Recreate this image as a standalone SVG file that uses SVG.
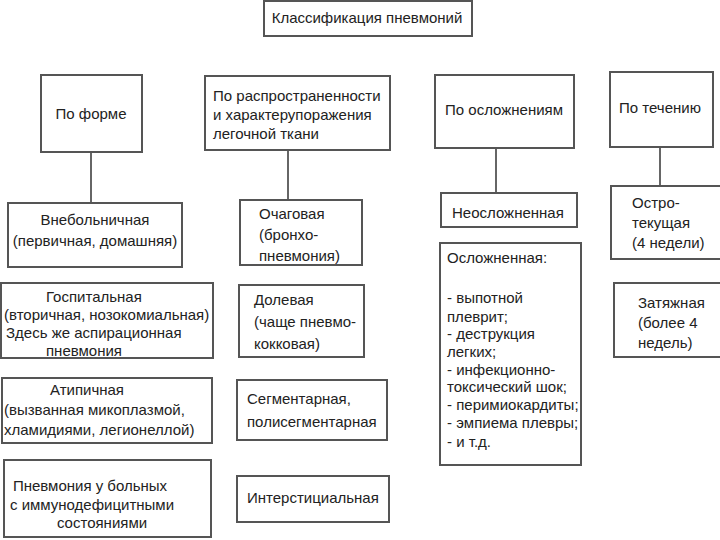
<svg xmlns="http://www.w3.org/2000/svg" width="720" height="540" viewBox="0 0 720 540">
<style>
rect.b{fill:#fff;stroke:#555;stroke-width:2}
text{font-family:"Liberation Sans",Arial,sans-serif;font-size:15px;fill:#222}
.c{text-anchor:middle}
line{stroke:#333;stroke-width:1.5}
</style>
<rect width="720" height="540" fill="#fff"/>
<g id="title"><rect class="b" x="264" y="1" width="208" height="35"/><text class="c" x="367" y="23">Классификация пневмоний</text></g>
<g id="connectors">
<line x1="91" y1="152" x2="91" y2="203"/>
<line x1="288" y1="150" x2="288" y2="200"/>
<line x1="496" y1="148" x2="496" y2="193"/>
<line x1="660" y1="147" x2="660" y2="186"/>
</g>
<g id="form"><rect class="b" x="41" y="75" width="101" height="77"/><text class="c" x="91" y="119">По форме</text></g>
<g id="spread"><rect class="b" x="205" y="76" width="185" height="74"/><text x="213" y="101">По распространенности</text><text x="213" y="120">и характерупоражения</text><text x="213" y="139">легочной ткани</text></g>
<g id="compl"><rect class="b" x="435" y="75" width="139" height="73"/><text class="c" x="504" y="115">По осложнениям</text></g>
<g id="course"><rect class="b" x="610" y="72" width="103" height="75"/><text class="c" x="660" y="113">По течению</text></g>

<g id="n1"><rect class="b" x="8" y="203" width="174" height="64"/><text class="c" x="95" y="225">Внебольничная</text><text class="c" x="95" y="246">(первичная, домашняя)</text></g>
<g id="n2"><rect class="b" x="1" y="283" width="212" height="75"/><text x="46" y="302">Госпитальная</text><text x="4" y="320">(вторичная, нозокомиальная)</text><text x="6" y="338">Здесь же аспирационная</text><text x="46" y="356">пневмония</text></g>
<g id="n3"><rect class="b" x="2" y="378" width="210" height="65"/><text x="50" y="395">Атипичная</text><text x="4" y="415">(вызванная микоплазмой,</text><text x="4" y="435">хламидиями, легионеллой)</text></g>
<g id="n4"><rect class="b" x="4" y="460" width="207" height="77"/><text class="c" x="90" y="491">Пневмония у больных</text><text class="c" x="92" y="510">с иммунодефицитными</text><text class="c" x="102" y="528">состояниями</text></g>

<g id="n5"><rect class="b" x="240" y="200" width="122" height="65"/><text x="259" y="219">Очаговая</text><text x="259" y="240">(бронхо-</text><text x="259" y="261">пневмония)</text></g>
<g id="n6"><rect class="b" x="239" y="285" width="125" height="72"/><text x="254" y="305">Долевая</text><text x="254" y="327">(чаще пневмо-</text><text x="254" y="349">кокковая)</text></g>
<g id="n7"><rect class="b" x="237" y="380" width="150" height="60"/><text x="247" y="404">Сегментарная,</text><text x="247" y="427">полисегментарная</text></g>
<g id="n8"><rect class="b" x="237" y="476" width="152" height="46"/><text x="247" y="503">Интерстициальная</text></g>

<g id="n9"><rect class="b" x="441" y="193" width="136" height="34"/><text x="452" y="218">Неосложненная</text></g>
<g id="n10"><rect class="b" x="440" y="243" width="141" height="222"/>
<text x="447" y="263">Осложненная:</text>
<text x="447" y="303">- выпотной</text>
<text x="447" y="322">плеврит;</text>
<text x="447" y="339">- деструкция</text>
<text x="447" y="357">легких;</text>
<text x="447" y="375">- инфекционно-</text>
<text x="447" y="392">токсический шок;</text>
<text x="447" y="410">- перимиокардиты;</text>
<text x="447" y="428">- эмпиема плевры;</text>
<text x="447" y="447">- и т.д.</text></g>

<g id="n11"><rect class="b" x="611" y="186" width="114" height="73"/><text x="632" y="208">Остро-</text><text x="632" y="228">текущая</text><text x="632" y="248">(4 недели)</text></g>
<g id="n12"><rect class="b" x="614" y="283" width="110" height="74"/><text x="638" y="308">Затяжная</text><text x="638" y="328">(более 4</text><text x="638" y="348">недель)</text></g>
</svg>
